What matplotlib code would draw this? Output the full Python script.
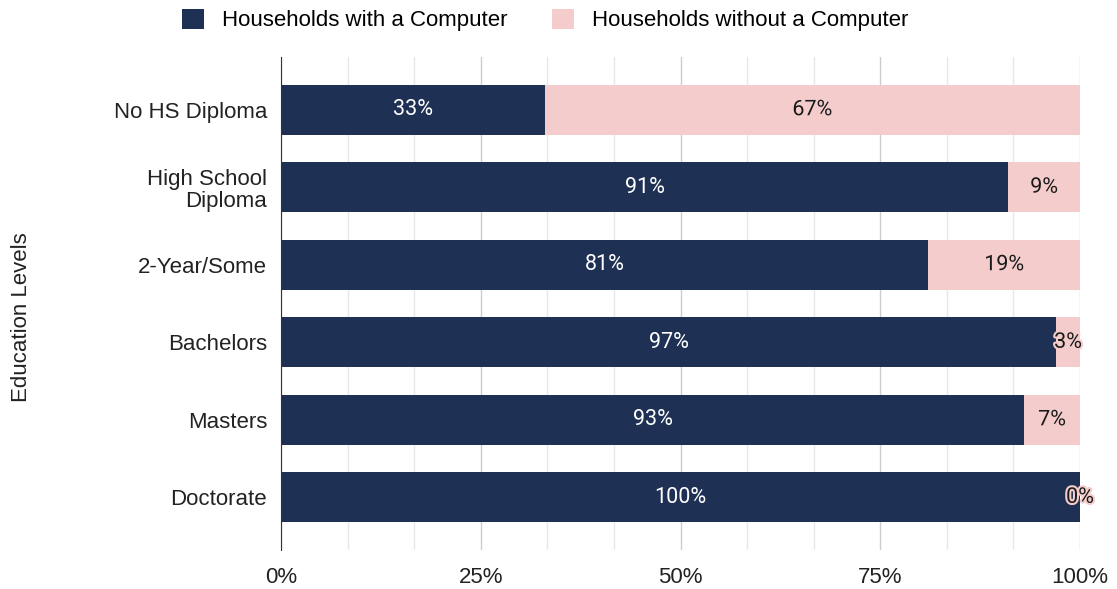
import matplotlib.pyplot as plt
import matplotlib.patheffects as pe
import numpy as np

# 学歴別のパソコン保有率
levels = ['No HS Diploma', 'High School\nDiploma', '2-Year/Some', 'Bachelors', 'Masters', 'Doctorate']
with_pc = [33, 91, 81, 97, 93, 100]
without_pc = [67, 9, 19, 3, 7, 0]

navy = '#1e3053'
pink = '#f4cccc'

plt.rcParams['font.family'] = ['Liberation Sans', 'DejaVu Sans']

fig = plt.figure(figsize=(11.17, 5.89), dpi=100)
ax = fig.add_axes([0.2516, 0.0662, 0.7153, 0.8370])

y = np.arange(len(levels))
h = 0.645
ax.barh(y, with_pc, height=h, color=navy, label='Households with a Computer', zorder=3)
ax.barh(y, without_pc, height=h, left=with_pc, color=pink, label='Households without a Computer', zorder=3)

# ラベル
for i in range(len(levels)):
    a, b = with_pc[i], without_pc[i]
    ax.text(a / 2, i, f'{a}%', ha='center', va='center', color='white',
            fontsize=15.5, family=['Roboto', 'DejaVu Sans'], zorder=4)
    t = ax.text(a + b / 2, i, f'{b}%', ha='center', va='center', color='#1a1a1a',
                fontsize=15.5, family=['Roboto', 'DejaVu Sans'], zorder=4)
    t.set_path_effects([pe.withStroke(linewidth=3, foreground=pink)])

ax.set_xlim(0, 100)
ax.set_ylim(len(levels) - 1 + 0.68, -0.68)
ax.set_yticks(y)
ax.set_yticklabels(levels, fontsize=16, color='#222222', linespacing=1.1)
ax.set_xticks([0, 25, 50, 75, 100])
ax.set_xticklabels(['0%', '25%', '50%', '75%', '100%'], fontsize=16, color='#222222')
ax.set_xticks(np.arange(0, 100, 25 / 3), minor=True)
ax.tick_params(axis='both', which='both', length=0)
ax.tick_params(axis='x', pad=12)
ax.tick_params(axis='y', pad=10)

# グリッド
ax.grid(axis='x', which='major', color='#cccccc', linewidth=1, zorder=0)
ax.grid(axis='x', which='minor', color='#e8e8e8', linewidth=1, zorder=0)
ax.set_axisbelow(True)
for s in ['top', 'right', 'bottom']:
    ax.spines[s].set_visible(False)
ax.spines['left'].set_color('#333333')
ax.spines['left'].set_zorder(5)

fig.text(0.019, 0.462, 'Education Levels', rotation=90, ha='center', va='center',
         fontsize=16, color='#222222')

fig.legend(loc='center', bbox_to_anchor=(0.488, 0.966), ncol=2, frameon=False,
           fontsize=16, handlelength=1.0, handleheight=1.0, columnspacing=2.0,
           handletextpad=0.8)

plt.savefig('out.png', dpi=100)
